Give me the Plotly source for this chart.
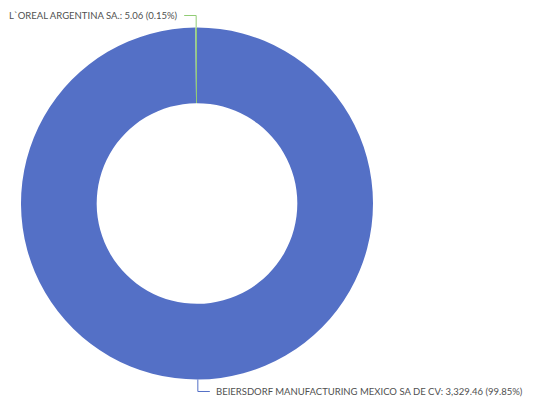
import math
import plotly.graph_objects as go

labels = ["BEIERSDORF MANUFACTURING MEXICO SA DE CV", "L`OREAL ARGENTINA SA."]
values = [3329.46, 5.06]
colors = ["#5470c6", "#91cc75"]

W, H = 541, 401
CX, CY = 197.0, 203.5   # centre in px (from top-left)
R_OUT = 176.0
HOLE = 0.57
LEG1 = 12.0   # radial leg of leader line
LEG2 = 12.0   # horizontal leg
GAP = 4.0
TEXT_COLOR = "#505050"
FONT = "Lato, sans-serif"

fig = go.Figure(go.Pie(
    labels=labels, values=values, hole=HOLE, sort=False, direction="clockwise",
    rotation=0, marker=dict(colors=colors, line=dict(width=0)),
    textinfo="none", hoverinfo="skip", showlegend=False,
    domain=dict(x=[(CX - R_OUT) / W, (CX + R_OUT) / W],
                y=[(H - CY - R_OUT) / H, (H - CY + R_OUT) / H]),
))

def px2paper(x, y):
    return x / W, 1 - y / H

total = sum(values)
cum = 0.0
for lab, val, col in zip(labels, values, colors):
    mid = (cum + val / 2) / total * 360.0
    cum += val
    th = math.radians(mid)
    sx, sy = CX + R_OUT * math.sin(th), CY - R_OUT * math.cos(th)
    up = math.cos(th) > 0
    ey = sy - LEG1 if up else sy + LEG1
    right = math.sin(th) > 0
    ex = sx + LEG2 if right else sx - LEG2
    pts = [px2paper(sx, sy), px2paper(sx, ey), px2paper(ex, ey)]
    path = "M {} {} L {} {} L {} {}".format(*[c for p in pts for c in p])
    fig.add_shape(type="path", path=path, xref="paper", yref="paper",
                  line=dict(color=col, width=1))
    pct = val / total * 100
    txt = f"{lab}: {val:,.2f} ({pct:.2f}%)"
    tx = ex + GAP if right else ex - GAP
    ax, ay = px2paper(tx, ey)
    fig.add_annotation(x=ax, y=ay, xref="paper", yref="paper", text=txt,
                       showarrow=False, xanchor="left" if right else "right",
                       yanchor="middle", font=dict(family=FONT, size=9.5, color=TEXT_COLOR))

fig.update_layout(width=W, height=H, margin=dict(l=0, r=0, t=0, b=0),
                  paper_bgcolor="white", plot_bgcolor="white")
fig.write_html("out.html", config={"displayModeBar": False},
               post_script="document.body.style.margin='0';document.body.style.overflow='hidden';")
